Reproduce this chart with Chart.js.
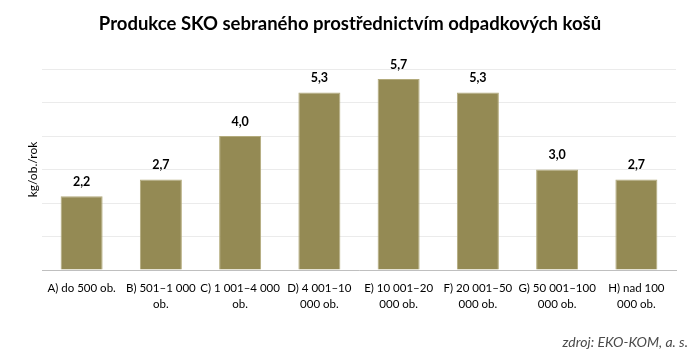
<!DOCTYPE html>
<html>
<head>
<meta charset="utf-8">
<script src="https://cdn.jsdelivr.net/npm/chart.js@4.4.0/dist/chart.umd.min.js"></script>
<style>
html,body{margin:0;padding:0;background:#fff;}
#wrap{width:700px;height:354px;position:relative;}
</style>
</head>
<body>
<div id="wrap"><canvas id="c" width="700" height="354"></canvas></div>
<script>
const categories = [
  ["A) do 500 ob."],
  ["B) 501\u20131 000", "ob."],
  ["C) 1 001\u20134 000", "ob."],
  ["D) 4 001\u201310", "000 ob."],
  ["E) 10 001\u201320", "000 ob."],
  ["F) 20 001\u201350", "000 ob."],
  ["G) 50 001\u2013100", "000 ob."],
  ["H) nad 100", "000 ob."]
];
const values = [2.2, 2.7, 4.0, 5.3, 5.7, 5.3, 3.0, 2.7];
const titleText = "Produkce SKO sebraného prostřednictvím odpadkových košů";
const yTitle = "kg/ob./rok";
const sourceText = "zdroj: EKO-KOM, a. s.";

const FONT = "Lato, 'Open Sans', sans-serif";

const dataLabels = {
  id: 'dataLabels',
  afterDatasetsDraw(chart) {
    const ctx = chart.ctx;
    const meta = chart.getDatasetMeta(0);
    ctx.save();
    ctx.font = "bold 12.5px " + FONT;
    ctx.fillStyle = "#000";
    ctx.textAlign = "center";
    ctx.textBaseline = "bottom";
    meta.data.forEach((bar, i) => {
      const v = chart.data.datasets[0].data[i];
      ctx.fillText(v.toFixed(1).replace('.', ','), bar.x, bar.y - 8);
    });
    ctx.restore();
  }
};

const sourcePlugin = {
  id: 'sourceText',
  afterDraw(chart) {
    const ctx = chart.ctx;
    ctx.save();
    ctx.font = "italic 14px " + FONT;
    ctx.fillStyle = "#4a4a4a";
    ctx.textAlign = "right";
    ctx.textBaseline = "middle";
    ctx.fillText(sourceText, 688, 342);
    ctx.restore();
  }
};

new Chart(document.getElementById('c'), {
  type: 'bar',
  data: {
    labels: categories,
    datasets: [{
      data: values,
      yAxisID: 'y',
      backgroundColor: '#948A54',
      borderColor: '#B3AB7C',
      borderWidth: 1,
      categoryPercentage: 1,
      barPercentage: 0.53
    }]
  },
  options: {
    responsive: false,
    animation: false,
    layout: { padding: { left: 0, right: 0, top: 0, bottom: 20 } },
    plugins: {
      legend: { display: false },
      tooltip: { enabled: false },
      title: {
        display: true,
        text: titleText,
        color: '#000',
        font: { family: FONT, size: 18.5, weight: 'bold' },
        padding: { top: 13, bottom: 33.8 }
      }
    },
    scales: {
      x: {
        grid: { display: false, drawTicks: false },
        border: { display: true, color: '#BFBFBF', width: 1 },
        ticks: {
          color: '#000',
          font: { family: FONT, size: 11.5, lineHeight: 1.39 },
          padding: 10,
          maxRotation: 0,
          autoSkip: false
        },
        afterFit(scale) { scale.height = 64; }
      },
      y: {
        min: 0,
        max: 6,
        ticks: { display: false, stepSize: 1 },
        grid: { color: '#EBEBEB', drawTicks: false },
        border: { display: false },
        title: {
          display: true,
          text: yTitle,
          color: '#000',
          font: { family: FONT, size: 12 },
          padding: { top: 26, bottom: 0 }
        },
        afterFit(scale) { scale.width = 42; }
      },
      yRight: {
        position: 'right',
        display: true,
        min: 0,
        max: 6,
        ticks: { display: false },
        grid: { display: false, drawTicks: false },
        border: { display: false },
        afterFit(scale) { scale.width = 24; }
      }
    }
  },
  plugins: [dataLabels, sourcePlugin]
});
</script>
</body>
</html>
